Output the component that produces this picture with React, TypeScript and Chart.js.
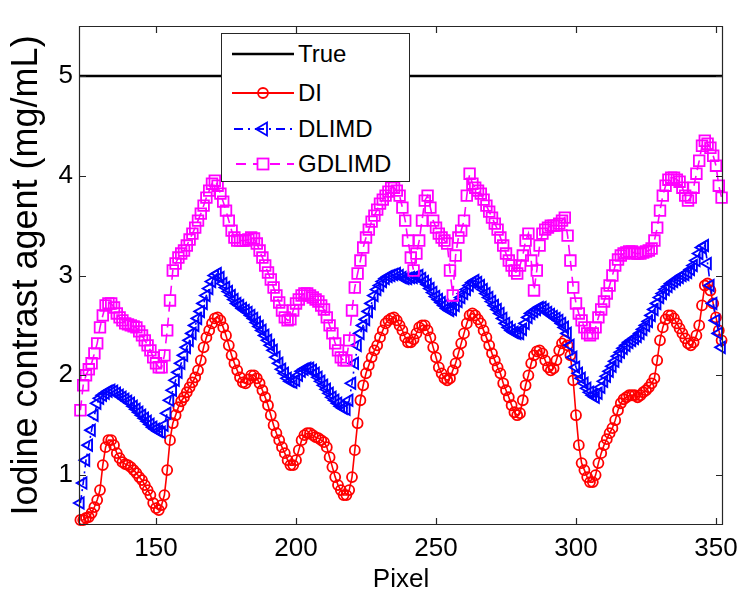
import React, { useEffect, useRef } from "react";
import { Chart, registerables } from "chart.js";
Chart.register(...registerables);

// pixel index of first sample
const pixelStart = 123;
const xTicks = [150, 200, 250, 300, 350];
const yTicks = [1, 2, 3, 4, 5];
const trueX = [122.5, 352.5];
const trueY = [5, 5];

const DI = [
  0.55, 0.55, 0.57, 0.58, 0.62, 0.68, 0.75, 0.85, 1.1, 1.28,
  1.35, 1.35, 1.3, 1.22, 1.17, 1.13, 1.11, 1.1, 1.08, 1.05,
  1.02, 0.98, 0.95, 0.9, 0.85, 0.8, 0.72, 0.67, 0.65, 0.7,
  0.8, 1.05, 1.35, 1.52, 1.6, 1.68, 1.74, 1.78, 1.83, 1.88,
  1.93, 1.98, 2.05, 2.15, 2.28, 2.38, 2.45, 2.52, 2.57, 2.58,
  2.55, 2.48, 2.4, 2.3, 2.2, 2.12, 2.05, 1.98, 1.93, 1.92,
  1.96, 2.0, 2.0, 1.97, 1.92, 1.85, 1.78, 1.7, 1.6, 1.5,
  1.42, 1.35, 1.28, 1.22, 1.15, 1.1, 1.1, 1.15, 1.25, 1.35,
  1.4, 1.42, 1.42, 1.4, 1.38, 1.37, 1.35, 1.33, 1.28, 1.18,
  1.08, 0.98, 0.9, 0.85, 0.8, 0.8, 0.85, 0.98, 1.25, 1.52,
  1.75, 1.9, 2.02, 2.1, 2.18, 2.25, 2.3, 2.38, 2.45, 2.52,
  2.55, 2.57, 2.58, 2.55, 2.5, 2.45, 2.38, 2.33, 2.33, 2.36,
  2.42, 2.48, 2.5, 2.5, 2.45, 2.38, 2.28, 2.18, 2.08, 2.02,
  1.97, 1.95, 1.97, 2.05, 2.12, 2.22, 2.32, 2.42, 2.52, 2.6,
  2.62, 2.6, 2.56, 2.52, 2.45, 2.38, 2.3, 2.22, 2.15, 2.08,
  2.02, 1.92, 1.85, 1.78, 1.7, 1.63, 1.6, 1.62, 1.75, 1.9,
  2.0, 2.12, 2.2, 2.24, 2.25, 2.22, 2.15, 2.08, 2.05, 2.07,
  2.15, 2.25, 2.32, 2.35, 2.3, 2.2, 1.95, 1.6, 1.3, 1.12,
  1.05, 0.98, 0.93, 0.93, 1.0, 1.12, 1.22, 1.3, 1.36, 1.42,
  1.47, 1.55, 1.65, 1.72, 1.76, 1.78, 1.8, 1.8, 1.8, 1.78,
  1.8, 1.83, 1.85, 1.88, 1.92, 1.97, 2.15, 2.35, 2.48, 2.56,
  2.6, 2.6, 2.57, 2.52, 2.47, 2.42, 2.37, 2.32, 2.3, 2.33,
  2.4, 2.5, 2.7, 2.9, 2.92, 2.85, 2.72, 2.58, 2.45, 2.35,
];

const DLIMD = [
  0.72, 0.92, 1.15, 1.3, 1.45, 1.6, 1.72, 1.77, 1.8, 1.82,
  1.84, 1.85, 1.84, 1.82, 1.8, 1.78, 1.76, 1.74, 1.72, 1.69,
  1.66, 1.63, 1.6, 1.57, 1.54, 1.51, 1.48, 1.46, 1.44, 1.43,
  1.5, 1.62, 1.75, 1.85, 1.95, 2.03, 2.12, 2.2, 2.28, 2.35,
  2.42, 2.5, 2.57, 2.64, 2.72, 2.8, 2.87, 2.94, 3.0, 3.02,
  2.98, 2.92, 2.88, 2.84, 2.8, 2.76, 2.72, 2.7, 2.67, 2.65,
  2.63, 2.6, 2.57, 2.53, 2.49, 2.45, 2.4, 2.35, 2.3, 2.25,
  2.18, 2.12, 2.06, 2.02, 1.97, 1.94, 1.93, 1.95, 2.0, 2.04,
  2.06, 2.07, 2.07, 2.05, 2.02, 1.98, 1.94, 1.9, 1.86, 1.82,
  1.78, 1.75, 1.72, 1.69, 1.67, 1.66, 1.75, 1.92, 2.12, 2.3,
  2.42, 2.5, 2.56, 2.64, 2.72, 2.8, 2.86, 2.9, 2.94, 2.97,
  2.99, 3.0, 3.01, 3.02, 3.0, 2.98, 2.97, 2.97, 2.98, 2.98,
  2.99, 3.0, 2.97, 2.94, 2.91, 2.87, 2.83, 2.79, 2.76, 2.73,
  2.7, 2.67, 2.65, 2.66, 2.7, 2.74, 2.78, 2.82, 2.86, 2.9,
  2.93, 2.95, 2.93, 2.9, 2.86, 2.82, 2.78, 2.74, 2.7, 2.66,
  2.62, 2.57, 2.52, 2.48, 2.45, 2.43, 2.42, 2.42, 2.46, 2.52,
  2.58, 2.62, 2.64, 2.66, 2.68, 2.68, 2.66, 2.63, 2.61, 2.59,
  2.57, 2.55, 2.52, 2.48, 2.42, 2.3, 2.18, 2.08, 2.02, 1.97,
  1.92, 1.87, 1.83, 1.8, 1.78, 1.82, 1.88, 1.94, 1.99, 2.04,
  2.09, 2.14, 2.19, 2.23, 2.27, 2.3, 2.33, 2.35, 2.37, 2.39,
  2.42, 2.46, 2.5, 2.54, 2.6, 2.66, 2.72, 2.78, 2.82, 2.86,
  2.89, 2.92, 2.94, 2.96, 2.98, 3.0, 3.01, 3.03, 3.06, 3.1,
  3.15, 3.22, 3.28, 3.3, 3.12, 2.9, 2.72, 2.55, 2.42, 2.28,
];

const GDLIMD = [
  1.65, 1.9, 2.0, 2.06, 2.12, 2.22, 2.32, 2.48, 2.6, 2.7,
  2.72, 2.72, 2.68, 2.62, 2.58, 2.55, 2.52, 2.51, 2.5, 2.49,
  2.48, 2.44, 2.4, 2.35, 2.3, 2.25, 2.18, 2.12, 2.08, 2.08,
  2.2, 2.45, 2.75, 3.05, 3.12, 3.18, 3.22, 3.25, 3.3, 3.36,
  3.42, 3.48, 3.55, 3.62, 3.7, 3.78, 3.85, 3.92, 3.95, 3.9,
  3.82, 3.74, 3.65, 3.55, 3.45, 3.38, 3.35, 3.35, 3.35, 3.35,
  3.36, 3.38, 3.37, 3.32, 3.25, 3.18, 3.1, 3.03, 2.96, 2.88,
  2.8, 2.73, 2.65, 2.58, 2.55, 2.56, 2.65, 2.72, 2.76, 2.8,
  2.82, 2.82, 2.8, 2.78, 2.76, 2.74, 2.7, 2.66, 2.58, 2.5,
  2.42, 2.32, 2.25, 2.18, 2.15, 2.15, 2.35, 2.65, 2.88, 3.02,
  3.15, 3.28, 3.38, 3.46, 3.54, 3.6, 3.66, 3.72, 3.76, 3.8,
  3.84, 3.88, 3.88, 3.85, 3.8, 3.68, 3.55, 3.35, 3.18, 3.05,
  3.22, 3.35, 3.55, 3.75, 3.8, 3.68, 3.55, 3.48, 3.42, 3.38,
  3.35, 3.32, 3.05, 2.8, 3.2, 3.38, 3.45, 3.55, 3.8, 4.02,
  3.92, 3.88, 3.85, 3.82, 3.76, 3.7, 3.64, 3.58, 3.52, 3.46,
  3.38, 3.3, 3.22, 3.15, 3.1, 3.05, 3.02, 3.1, 3.2, 3.35,
  3.42, 3.15, 2.85, 3.05, 3.3, 3.42, 3.46, 3.48, 3.5, 3.5,
  3.5, 3.52, 3.55, 3.58, 3.4, 3.15, 2.88, 2.72, 2.62, 2.55,
  2.48, 2.42, 2.4, 2.42, 2.48, 2.58, 2.66, 2.74, 2.82, 2.9,
  3.0, 3.1, 3.16, 3.2, 3.22, 3.23, 3.24, 3.24, 3.22, 3.22,
  3.22, 3.23, 3.24, 3.25, 3.27, 3.35, 3.48, 3.65, 3.8, 3.9,
  3.96, 3.98, 3.98, 3.96, 3.94, 3.88, 3.8, 3.75, 3.78, 3.88,
  4.02, 4.15, 4.3, 4.35, 4.32, 4.28, 4.2, 4.1, 3.9, 3.78,
];

const FONT = '"Liberation Sans", Arial, Helvetica, sans-serif';
const RED = "#ff0000";
const BLUE = "#0000ff";
const MAGENTA = "#ff00ff";

const toPoints = (vals: number[]) => vals.map((v, i) => ({ x: pixelStart + i, y: v }));

const framePlugin = {
  id: "frame",
  afterDatasetsDraw(chart: any) {
    const { ctx, chartArea, scales } = chart;
    const { left, right, top, bottom } = chartArea;
    const tl = 7;
    ctx.save();
    ctx.strokeStyle = "#262626";
    ctx.lineWidth = 1.2;
    ctx.beginPath();
    ctx.rect(left + 0.5, top + 0.5, right - left - 1, bottom - top - 1);
    for (const v of xTicks) {
      const px = Math.round(scales.x.getPixelForValue(v)) + 0.5;
      ctx.moveTo(px, bottom);
      ctx.lineTo(px, bottom - tl);
      ctx.moveTo(px, top);
      ctx.lineTo(px, top + tl);
    }
    for (const v of yTicks) {
      const py = Math.round(scales.y.getPixelForValue(v)) + 0.5;
      ctx.moveTo(left, py);
      ctx.lineTo(left + tl, py);
      ctx.moveTo(right, py);
      ctx.lineTo(right - tl, py);
    }
    ctx.stroke();
    ctx.restore();
  },
};

function LegendSample({ kind }: { kind: string }) {
  const w = 62;
  const h = 20;
  const cy = h / 2;
  const cx = w / 2;
  if (kind === "True")
    return (
      <svg width={w} height={h}>
        <line x1={0} y1={cy} x2={w} y2={cy} stroke="#000" strokeWidth={2.5} />
      </svg>
    );
  if (kind === "DI")
    return (
      <svg width={w} height={h}>
        <line x1={0} y1={cy} x2={w} y2={cy} stroke={RED} strokeWidth={1.8} />
        <circle cx={cx} cy={cy} r={5} fill="none" stroke={RED} strokeWidth={1.8} />
      </svg>
    );
  if (kind === "DLIMD")
    return (
      <svg width={w} height={h}>
        <line x1={2} y1={cy} x2={w} y2={cy} stroke={BLUE} strokeWidth={1.8} strokeDasharray="9,5,2,5" />
        <polygon points={`${cx - 7},${cy} ${cx + 4},${cy - 6.5} ${cx + 4},${cy + 6.5}`} fill="none" stroke={BLUE} strokeWidth={1.8} />
      </svg>
    );
  return (
    <svg width={w} height={h}>
      <line x1={4} y1={cy} x2={w} y2={cy} stroke={MAGENTA} strokeWidth={1.8} strokeDasharray="10,7" />
      <rect x={cx - 5.5} y={cy - 5.5} width={11} height={11} fill="#fff" stroke={MAGENTA} strokeWidth={1.8} />
    </svg>
  );
}

const legendItems = ["True", "DI", "DLIMD", "GDLIMD"];
const legendRows = [20, 59, 95, 130];

export default function App() {
  const canvasRef = useRef<HTMLCanvasElement | null>(null);

  useEffect(() => {
    document.body.style.margin = "0";
    const canvas = canvasRef.current;
    if (!canvas) return;
    const chart = new Chart(canvas, {
      type: "scatter",
      data: {
        datasets: [
          {
            label: "True",
            data: trueX.map((x, i) => ({ x, y: trueY[i] })),
            showLine: true,
            borderColor: "#000",
            borderWidth: 2.5,
            pointRadius: 0,
            order: 3,
          },
          {
            label: "DI",
            data: toPoints(DI),
            showLine: true,
            borderColor: RED,
            borderWidth: 1.6,
            pointStyle: "circle",
            pointRadius: 5,
            pointBorderWidth: 1.8,
            pointBorderColor: RED,
            pointBackgroundColor: "rgba(0,0,0,0)",
            clip: false,
            order: 2,
          },
          {
            label: "DLIMD",
            data: toPoints(DLIMD),
            showLine: true,
            borderColor: BLUE,
            borderWidth: 1.6,
            borderDash: [8, 4, 2, 4],
            pointStyle: "triangle",
            rotation: -90,
            pointRadius: 6.5,
            pointBorderWidth: 1.9,
            pointBorderColor: BLUE,
            pointBackgroundColor: "rgba(0,0,0,0)",
            clip: false,
            order: 1,
          },
          {
            label: "GDLIMD",
            data: toPoints(GDLIMD),
            showLine: true,
            borderColor: MAGENTA,
            borderWidth: 1.6,
            borderDash: [10, 6],
            pointStyle: "rect",
            pointRadius: 7.5,
            pointBorderWidth: 1.8,
            pointBorderColor: MAGENTA,
            pointBackgroundColor: "rgba(0,0,0,0)",
            clip: false,
            order: 0,
          },
        ],
      } as any,
      options: {
        responsive: false,
        animation: false,
        devicePixelRatio: 1,
        layout: { padding: { top: 26, right: 27, left: 0, bottom: 0 } },
        plugins: { legend: { display: false }, tooltip: { enabled: false } },
        scales: {
          x: {
            type: "linear",
            min: 122.5,
            max: 352.5,
            afterBuildTicks: (s: any) => {
              s.ticks = xTicks.map((v) => ({ value: v }));
            },
            afterFit: (s: any) => {
              s.height = 74;
            },
            grid: { display: false, drawTicks: false },
            border: { display: false },
            ticks: {
              font: { family: FONT, size: 26 },
              color: "#000",
              padding: 8,
              maxRotation: 0,
              autoSkip: false,
            },
            title: {
              display: true,
              text: "Pixel",
              font: { family: FONT, size: 26 },
              color: "#000",
              padding: { top: 0, bottom: 4 },
            },
          },
          y: {
            type: "linear",
            min: 0.5,
            max: 5.5,
            afterBuildTicks: (s: any) => {
              s.ticks = yTicks.map((v) => ({ value: v }));
            },
            afterFit: (s: any) => {
              s.width = 79;
            },
            grid: { display: false, drawTicks: false },
            border: { display: false },
            ticks: {
              font: { family: FONT, size: 26 },
              color: "#000",
              padding: 6,
              autoSkip: false,
            },
            title: {
              display: true,
              text: "Iodine contrast agent (mg/mL)",
              font: { family: FONT, size: 36 },
              color: "#000",
              padding: { top: 5, bottom: 0 },
            },
          },
        },
      } as any,
      plugins: [framePlugin],
    });
    return () => chart.destroy();
  }, []);

  return (
    <div style={{ position: "relative", width: 750, height: 599, background: "#fff" }}>
      <canvas ref={canvasRef} width={750} height={599} style={{ display: "block" }} />
      <div
        style={{
          position: "absolute",
          left: 221,
          top: 33,
          width: 189,
          height: 149,
          border: "1px solid #262626",
          background: "#fff",
          boxSizing: "border-box",
        }}
      >
        {legendItems.map((name, i) => (
          <div key={name} style={{ position: "absolute", left: 0, top: legendRows[i] - 15, height: 30, width: 187 }}>
            <div style={{ position: "absolute", left: 10, top: 5 }}>
              <LegendSample kind={name} />
            </div>
            <span
              style={{
                position: "absolute",
                left: 76,
                top: 0,
                lineHeight: "30px",
                fontFamily: FONT,
                fontSize: 24,
                color: "#000",
                whiteSpace: "nowrap",
              }}
            >
              {name}
            </span>
          </div>
        ))}
      </div>
    </div>
  );
}
